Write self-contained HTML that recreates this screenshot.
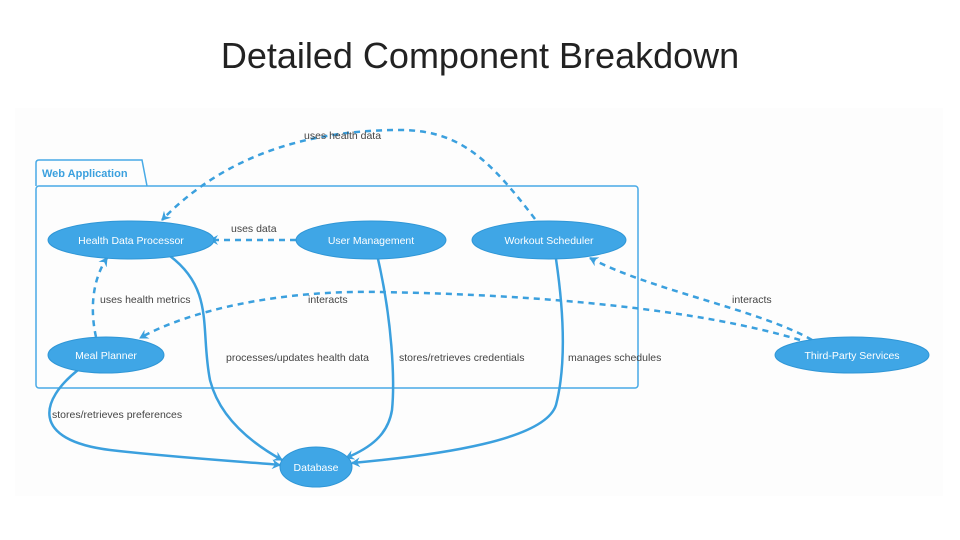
<!DOCTYPE html>
<html><head><meta charset="utf-8"><style>
html,body{margin:0;padding:0;background:#fff;width:960px;height:540px;overflow:hidden}
</style></head><body>
<svg width="960" height="540" xmlns="http://www.w3.org/2000/svg" font-family="Liberation Sans, DejaVu Sans, sans-serif">
<text x="480" y="68" text-anchor="middle" font-size="36" fill="#222" font-family="Liberation Sans, sans-serif">Detailed Component Breakdown</text>
<rect x="15" y="108" width="928" height="388" fill="#fdfdfd"/>
<defs>
<marker id="a" markerWidth="10" markerHeight="10" refX="8" refY="5" orient="auto" markerUnits="userSpaceOnUse"><path d="M0,0 L9,5 L0,10 L3,5z" fill="#3ba0de"/></marker>
</defs>
<g fill="none" stroke="#48aae6" stroke-width="1.5">
<path d="M36,186 L36,163 Q36,160 39,160 L142,160 L147,186"/>
<rect x="36" y="186" width="602" height="202" rx="3"/>
</g>
<text x="42" y="177" font-size="11" font-weight="bold" fill="#3ba0de">Web Application</text>
<g fill="none" stroke="#3ba0de" stroke-width="2.5">
<path d="M170,256 C215,290 200,330 210,380 C220,420 255,445 282,460" marker-end="url(#a)"/>
<path d="M378,259 C392,320 395,380 392,410 C388,435 370,448 346,458" marker-end="url(#a)"/>
<path d="M556,259 C565,320 565,370 556,405 C545,440 440,455 352,463" marker-end="url(#a)"/>
<path d="M78,370 C40,400 30,440 110,450 C180,458 250,462 280,465" marker-end="url(#a)"/>
</g>
<g fill="none" stroke="#3ba0de" stroke-width="2.5" stroke-dasharray="6,5">
<path d="M535,219 C490,160 460,130 400,130 C300,130 220,160 162,220" marker-end="url(#a)"/>
<path d="M296,240 L210,240" marker-end="url(#a)"/>
<path d="M96,337 C90,310 92,280 107,258" marker-end="url(#a)"/>
<path d="M800,340 C700,310 550,295 380,292 C280,290 190,310 140,338" marker-end="url(#a)"/>
<path d="M812,340 C760,310 650,290 590,258" marker-end="url(#a)"/>
</g>
<g fill="#3fa6e6" stroke="#2f96d6" stroke-width="1">
<ellipse cx="131" cy="240" rx="83" ry="19"/>
<ellipse cx="371" cy="240" rx="75" ry="19"/>
<ellipse cx="549" cy="240" rx="77" ry="19"/>
<ellipse cx="106" cy="355" rx="58" ry="18"/>
<ellipse cx="852" cy="355" rx="77" ry="18"/>
<ellipse cx="316" cy="467" rx="36" ry="20"/>
</g>
<g fill="#fff" font-size="10.5" text-anchor="middle">
<text x="131" y="244">Health Data Processor</text>
<text x="371" y="244">User Management</text>
<text x="549" y="244">Workout Scheduler</text>
<text x="106" y="359">Meal Planner</text>
<text x="852" y="359">Third-Party Services</text>
<text x="316" y="471">Database</text>
</g>
<g fill="#444" font-size="10.5">
<text x="304" y="139">uses health data</text>
<text x="231" y="232">uses data</text>
<text x="100" y="303">uses health metrics</text>
<text x="308" y="303">interacts</text>
<text x="732" y="303">interacts</text>
<text x="226" y="361">processes/updates health data</text>
<text x="399" y="361">stores/retrieves credentials</text>
<text x="568" y="361">manages schedules</text>
<text x="52" y="418">stores/retrieves preferences</text>
</g>
</svg>
</body></html>
